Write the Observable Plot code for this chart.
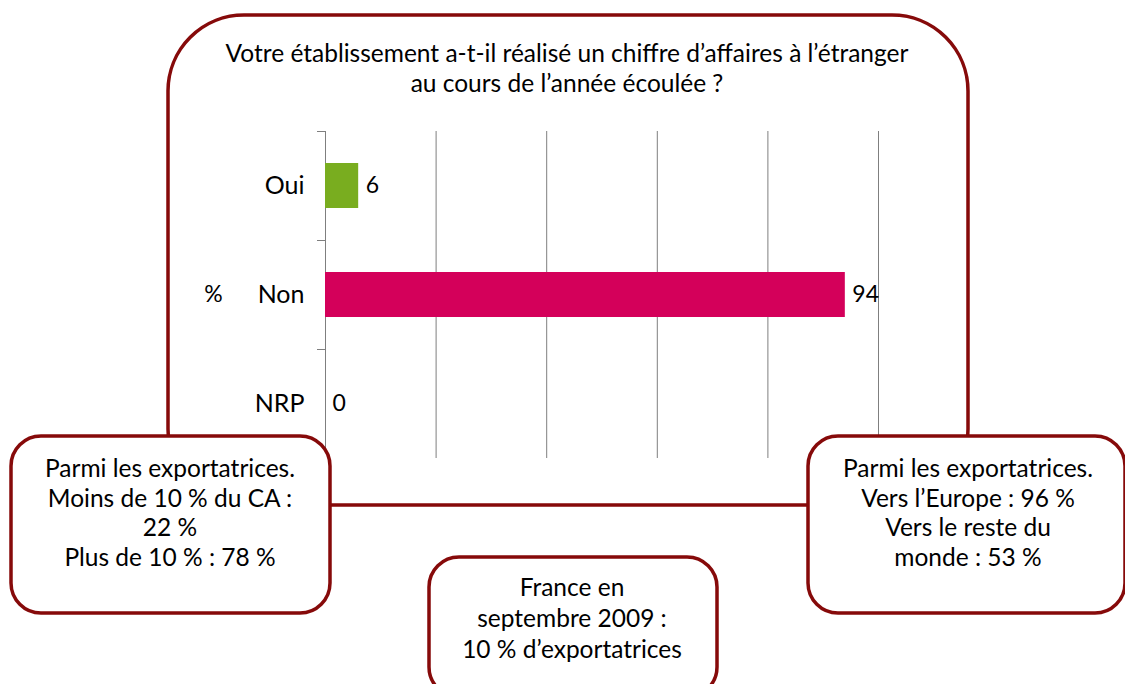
<!DOCTYPE html>
<html>
<head>
<meta charset="utf-8">
<script src="https://cdn.jsdelivr.net/npm/d3@7"></script>
<script src="https://cdn.jsdelivr.net/npm/@observablehq/plot@0.6"></script>
<style>
  html, body { margin: 0; padding: 0; background: #fff; }
  svg { font-family: Lato, "Open Sans", sans-serif; }
</style>
</head>
<body>
<div id="chart"></div>
<script>
// ---- data ----
const categories = ["Oui", "Non", "NRP"];
const values = [6, 94, 0];
const barColors = ["#79AD1F", "#D4005A", "#D4005A"];
const xTicks = [0, 20, 40, 60, 80, 100];
const titleLines = [
  "Votre établissement a-t-il réalisé un chiffre d’affaires à l’étranger",
  "au cours de l’année écoulée ?"
];
const unitLabel = "%";
const leftBoxLines = ["Parmi les exportatrices.", "Moins de 10 % du CA :", "22 %", "Plus de 10 % : 78 %"];
const rightBoxLines = ["Parmi les exportatrices.", "Vers l’Europe : 96 %", "Vers le reste du", "monde : 53 %"];
const centerBoxLines = ["France en", "septembre 2009 :", "10 % d’exportatrices"];

const rows = categories.map((c, i) => ({cat: c, value: values[i], color: barColors[i]}));

const W = 1125, H = 684;
const mL = 325, mR = 247, mT = 131, mB = 226;
const step = (H - mT - mB) / categories.length;
const tickLen = 8 / ((W - mL - mR) / 100);

const chart = Plot.plot({
  width: W,
  height: H,
  marginLeft: mL,
  marginRight: mR,
  marginTop: mT,
  marginBottom: mB,
  style: {fontFamily: "Lato, 'Open Sans', sans-serif", background: "transparent"},
  x: {domain: [0, 100], axis: null},
  y: {domain: categories, paddingInner: 0.585, paddingOuter: 0.2925},
  marks: [
    Plot.gridX(xTicks, {stroke: "#7f7f7f", strokeOpacity: 1, strokeWidth: 1}),
    Plot.barX(rows, {x: "value", y: "cat", fill: d => d.color}),
    Plot.text(rows, {x: "value", y: "cat", text: d => String(d.value), textAnchor: "start", dx: 7, fontSize: 23, fill: "#000"}),
    Plot.axisY({tickSize: 0, tickPadding: 21, fontSize: 25, label: null, color: "#000"}),
    Plot.ruleY(categories, {y: d => d, x1: -tickLen, x2: 0, dy: -step / 2, stroke: "#7f7f7f"}),
    Plot.ruleY([categories[categories.length - 1]], {y: d => d, x1: -tickLen, x2: 0, dy: step / 2, stroke: "#7f7f7f"}),
    Plot.text([unitLabel], {frameAnchor: "left", y: () => "Non", dx: -112, text: d => d, fontSize: 23, textAnchor: "middle", fill: "#000"})
  ]
});

document.getElementById("chart").appendChild(chart);

const svg = d3.select(chart);
const border = "#860a0a";

// big rounded frame behind the chart
svg.insert("rect", ":first-child")
  .attr("x", 168).attr("y", 15).attr("width", 800).attr("height", 490)
  .attr("rx", 76).attr("ry", 76)
  .attr("fill", "#fff").attr("stroke", border).attr("stroke-width", 3.5);

// title
const title = svg.append("text").attr("text-anchor", "middle").attr("font-size", 24.5).attr("fill", "#000");
titleLines.forEach((t, i) => title.append("tspan").attr("x", 567).attr("y", 62 + i * 30).text(t));

function box(x, y, w, h, lines, cx, y0, lh) {
  svg.append("rect").attr("x", x).attr("y", y).attr("width", w).attr("height", h)
    .attr("rx", 30).attr("ry", 30)
    .attr("fill", "#fff").attr("stroke", border).attr("stroke-width", 3.5);
  const t = svg.append("text").attr("text-anchor", "middle").attr("font-size", 24.5).attr("fill", "#000");
  lines.forEach((l, i) => t.append("tspan").attr("x", cx).attr("y", y0 + i * lh).text(l));
}
box(11, 436, 319, 177, leftBoxLines, 170, 477, 29.7);
box(808, 436, 317, 177, rightBoxLines, 968, 477, 29.7);
box(429, 557, 288, 140, centerBoxLines, 572, 596, 31);
</script>
</body>
</html>
